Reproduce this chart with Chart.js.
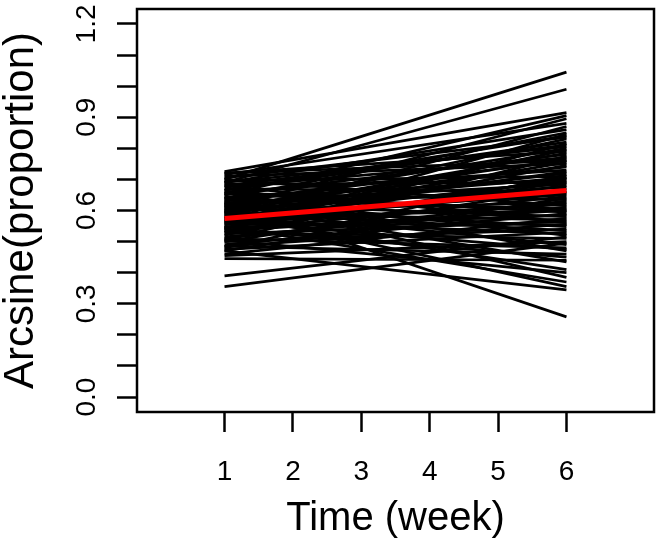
<!DOCTYPE html>
<html>
<head>
<meta charset="utf-8">
<script src="https://cdn.jsdelivr.net/npm/chart.js@4/dist/chart.umd.min.js"></script>
<style>
  html, body { margin: 0; padding: 0; background: #fff; }
  #wrap { width: 658px; height: 543px; }
</style>
</head>
<body>
<div id="wrap"><canvas id="c" width="658" height="543"></canvas></div>
<script>
// ---- data ----
const startWeek = 1;
const endWeek = 6;
// fitted value at week 1 for each subject
const week1Values = [
  0.700, 0.690, 0.725, 0.650, 0.610, 0.715, 0.580, 0.690, 0.640, 0.540,
  0.705, 0.600, 0.665, 0.520, 0.680, 0.620, 0.560, 0.720, 0.595, 0.650,
  0.505, 0.675, 0.630, 0.570, 0.710, 0.545, 0.615, 0.660, 0.590, 0.480,
  0.695, 0.530, 0.640, 0.575, 0.685, 0.555, 0.605, 0.500, 0.670, 0.625,
  0.585, 0.535, 0.470, 0.655, 0.600, 0.560, 0.700, 0.515, 0.635, 0.580,
  0.490, 0.545, 0.620, 0.460, 0.590, 0.525, 0.680, 0.555, 0.610, 0.500,
  0.475, 0.570, 0.645, 0.390, 0.530, 0.455, 0.355, 0.600, 0.510, 0.565,
  0.660, 0.485, 0.540, 0.445, 0.620, 0.580, 0.505, 0.640, 0.550, 0.595,
  0.470, 0.630, 0.665, 0.605, 0.575, 0.690, 0.545, 0.625, 0.510, 0.655,
  0.565, 0.595, 0.485, 0.720, 0.615, 0.535
];
// fitted value at week 6 for each subject
const week6Values = [
  1.045, 0.990, 0.915, 0.905, 0.895, 0.880, 0.870, 0.860, 0.850, 0.845,
  0.835, 0.830, 0.820, 0.815, 0.810, 0.800, 0.795, 0.790, 0.785, 0.780,
  0.775, 0.770, 0.760, 0.755, 0.750, 0.745, 0.740, 0.730, 0.720, 0.715,
  0.710, 0.705, 0.700, 0.695, 0.690, 0.680, 0.675, 0.670, 0.660, 0.655,
  0.650, 0.645, 0.640, 0.635, 0.625, 0.620, 0.615, 0.610, 0.605, 0.600,
  0.590, 0.585, 0.580, 0.575, 0.570, 0.565, 0.560, 0.555, 0.548, 0.540,
  0.530, 0.525, 0.520, 0.515, 0.510, 0.500, 0.495, 0.490, 0.480, 0.475,
  0.470, 0.460, 0.450, 0.440, 0.435, 0.410, 0.400, 0.385, 0.370, 0.355,
  0.345, 0.258, 0.840, 0.765, 0.725, 0.805, 0.690, 0.685, 0.630, 0.595,
  0.660, 0.535, 0.555, 0.760, 0.705, 0.600
];
// average trajectory (red)
const meanValues = [0.574, 0.664];

const xTicks = [1, 2, 3, 4, 5, 6];
const xTickLabels = ['1', '2', '3', '4', '5', '6'];
const yTicks = [0, 0.1, 0.2, 0.3, 0.4, 0.5, 0.6, 0.7, 0.8, 0.9, 1.0, 1.1, 1.2];
const yTickLabels = ['0.0', '', '', '0.3', '', '', '0.6', '', '', '0.9', '', '', '1.2'];
const xTitle = 'Time (week)';
const yTitle = 'Arcsine(proportion)';

// ---- build datasets ----
const datasets = [];
datasets.push({
  data: [{ x: startWeek, y: meanValues[0] }, { x: endWeek, y: meanValues[1] }],
  borderColor: '#ff0000',
  borderWidth: 5,
  pointRadius: 0,
  showLine: true,
  borderCapStyle: 'butt'
});
for (let i = 0; i < week1Values.length; i++) {
  datasets.push({
    data: [{ x: startWeek, y: week1Values[i] }, { x: endWeek, y: week6Values[i] }],
    borderColor: '#000000',
    borderWidth: 2.7,
    pointRadius: 0,
    showLine: true,
    borderCapStyle: 'butt'
  });
}

const FONT = "'Liberation Sans', Arial, Helvetica, sans-serif";

const boxPlugin = {
  id: 'box',
  afterDatasetsDraw(chart) {
    const a = chart.chartArea;
    const ctx = chart.ctx;
    ctx.save();
    ctx.strokeStyle = '#000';
    ctx.lineWidth = 2.5;
    ctx.strokeRect(a.left, a.top, a.right - a.left, a.bottom - a.top);
    ctx.restore();
  }
};

new Chart(document.getElementById('c'), {
  type: 'scatter',
  data: { datasets },
  options: {
    responsive: false,
    animation: false,
    devicePixelRatio: 1,
    layout: { padding: { top: 9, right: 4, left: 0, bottom: 0 } },
    plugins: { legend: { display: false }, tooltip: { enabled: false } },
    scales: {
      x: {
        type: 'linear',
        min: -0.28,
        max: 7.28,
        afterBuildTicks: (s) => { s.ticks = xTicks.map(v => ({ value: v })); },
        afterFit: (s) => { s.height = 131; s.paddingLeft = 0; s.paddingRight = 0; },
        ticks: {
          autoSkip: false,
          color: '#000',
          font: { family: FONT, size: 28 },
          padding: 23,
          maxRotation: 0,
          callback: (v, i) => xTickLabels[i]
        },
        grid: {
          display: true,
          drawOnChartArea: false,
          drawTicks: true,
          tickLength: 20,
          tickWidth: 2.5,
          tickColor: '#000'
        },
        border: { display: false },
        title: {
          display: true,
          text: xTitle,
          color: '#000',
          font: { family: FONT, size: 40, lineHeight: 1.2 },
          padding: { top: 0, bottom: 0 }
        }
      },
      y: {
        type: 'linear',
        min: -0.048,
        max: 1.248,
        afterBuildTicks: (s) => { s.ticks = yTicks.map(v => ({ value: v })); },
        afterFit: (s) => { s.width = 137; s.paddingTop = 0; s.paddingBottom = 0; },
        ticks: {
          autoSkip: false,
          color: '#000',
          font: { family: FONT, size: 28 },
          padding: 10,
          minRotation: 90,
          maxRotation: 90,
          crossAlign: 'center',
          callback: (v, i) => yTickLabels[i]
        },
        grid: {
          display: true,
          drawOnChartArea: false,
          drawTicks: true,
          tickLength: 20,
          tickWidth: 2.5,
          tickColor: '#000'
        },
        border: { display: false },
        title: {
          display: true,
          text: yTitle,
          color: '#000',
          font: { family: FONT, size: 42, lineHeight: 1 },
          padding: { top: 0, bottom: 0 }
        }
      }
    }
  },
  plugins: [boxPlugin]
});
</script>
</body>
</html>
